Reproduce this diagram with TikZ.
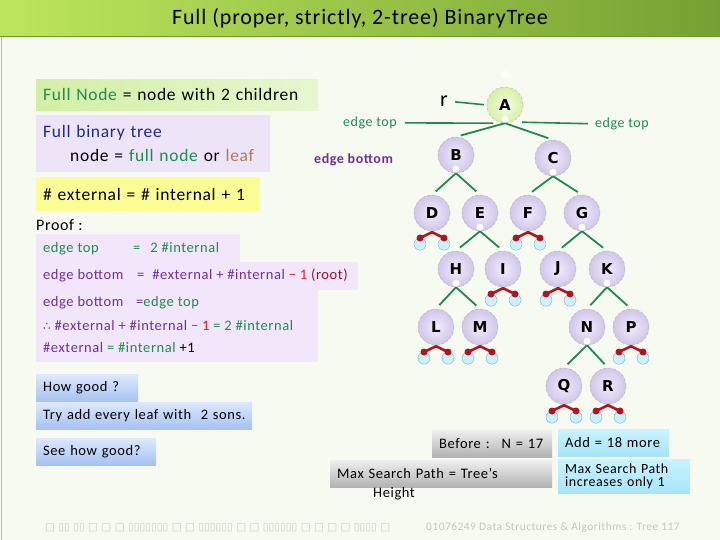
\documentclass[tikz,border=0pt]{standalone}
\usepackage{fontspec}
\setmainfont[LetterSpace=4]{Carlito}
\newfontfamily\glyphfont{DejaVu Sans}
\usetikzlibrary{calc}
\definecolor{paper}{HTML}{F7FAF0}
\definecolor{titleL}{HTML}{BDE65C}
\definecolor{titleR}{HTML}{76A132}
\definecolor{frameGreen}{HTML}{6E9A30}
\definecolor{boxGreenL}{HTML}{D2EFA5}
\definecolor{boxGreenR}{HTML}{E6F7CF}
\definecolor{boxLav}{HTML}{EDE5F7}
\definecolor{boxProof}{HTML}{F1E6FA}
\definecolor{boxYellow}{HTML}{FCFC94}
\definecolor{blueTop}{HTML}{DCE8FC}
\definecolor{blueBot}{HTML}{A6C2F2}
\definecolor{grayTop}{HTML}{EFEFEF}
\definecolor{grayBot}{HTML}{B2B2B2}
\definecolor{cyanTop}{HTML}{C8F3FE}
\definecolor{cyanBot}{HTML}{A8E5F8}
\definecolor{txtGreen}{HTML}{1E8C50}
\definecolor{txtNavy}{HTML}{1E2A8C}
\definecolor{txtLeaf}{HTML}{B07A55}
\definecolor{txtPurple}{HTML}{7030A0}
\definecolor{txtRed}{HTML}{E02020}
\definecolor{txtRoot}{HTML}{A0102A}
\definecolor{edgeGreen}{HTML}{1E8A4E}
\definecolor{nodeIn}{HTML}{F1EDFA}
\definecolor{nodeOut}{HTML}{D0C6EA}
\definecolor{rootIn}{HTML}{F6FDE6}
\definecolor{rootOut}{HTML}{D6F0A8}
\definecolor{wedgeRed}{HTML}{B4141E}
\definecolor{extFill}{HTML}{CDF1FA}
\definecolor{extDraw}{HTML}{6CB6D0}
\newcommand{\fsz}[1]{\fontsize{#1}{#1}\selectfont}

\begin{document}
\begin{tikzpicture}[x=1pt,y=-1pt,
  txt/.style={anchor=base west,inner sep=0pt},
  tbox/.style={anchor=north west,inner xsep=7pt,inner ysep=0pt,align=left},
  inode/.style={circle,minimum size=36pt,inner sep=0pt,draw=gray!60,densely dashed,
    inner color=nodeIn,outer color=nodeOut,font=\glyphfont\bfseries\fsz{15}},
  rnode/.style={inode,inner color=rootIn,outer color=rootOut},
  enode/.style={circle,minimum size=12pt,inner sep=0pt,draw=extDraw,fill=extFill,thin},
  branch/.style={draw=edgeGreen,line width=1.8pt,shorten >=5pt},
  leafcap/.style={draw=wedgeRed,line width=2.6pt,line join=round},
]
\useasboundingbox (0,0) rectangle (720,540);
% slide background and title bar
\fill[paper] (0,0) rectangle (720,540);
\shade[left color=titleL,right color=titleR] (0,0) rectangle (720,37);
\draw[frameGreen,line width=1pt] (0,37) -- (720,37);
\draw[frameGreen!55,line width=1.2pt] (1.5,37) -- (1.5,540);
\node[font=\fsz{22}] (title) at (360,18.5) {Full (proper, strictly, 2-tree) BinaryTree};

% definition boxes
\node[tbox,minimum height=31pt,text width=268pt,left color=boxGreenL,right color=boxGreenR,
  font=\fsz{17.5}] (fullnode) at (36,79)
  {{\color{txtGreen}Full Node} = node with 2 children};
\node[tbox,minimum height=57pt,text width=220pt,fill=boxLav,font=\fontsize{17.5}{24}\selectfont]
  (fulltree) at (36,115)
  {{\color{txtNavy}Full binary tree}\\\hspace*{27pt}node = {\color{txtGreen}full node} or {\color{txtLeaf}leaf}};
\node[tbox,minimum height=34pt,text width=210pt,fill=boxYellow,font=\fsz{17.5}] (extint) at (36,177)
  {\# external = \# internal + 1};
\node[txt,font=\fsz{16}] (proof) at (36,230) {Proof :};

% proof box
\fill[boxProof] (36,234) rectangle (240,263);
\fill[boxProof] (36,262) rectangle (358,290);
\fill[boxProof] (36,289) rectangle (318,362);
\begin{scope}[every node/.style={txt,font=\fsz{14.5}}]
\node[text=txtGreen] (p1) at (43,252.5) {\makebox[90pt][l]{edge top}=\hspace{10pt}2 \#internal};
\node[text=txtPurple] (p2) at (43,279.5) {\makebox[94pt][l]{edge bottom}=\hspace{8pt}\#external + \#internal {\color{txtRed}− 1} {\color{txtRoot}(root)}};
\node[text=txtPurple] (p3) at (43,306.5) {\makebox[93pt][l]{edge bottom}={\color{txtGreen}edge top}};
\node[text=txtPurple] (p4) at (43,330) {{\glyphfont\fsz{12}∴} \#external + \#internal {\color{txtRed}− 1} {\color{txtGreen}= 2 \#internal}};
\node[text=txtPurple] (p5) at (43,352.5) {\#external {\color{txtGreen}= \#internal} {\color{black}+1}};
\end{scope}

% question boxes
\node[tbox,minimum height=28pt,text width=88pt,top color=blueTop,bottom color=blueBot,font=\fsz{14.5}]
  (howgood) at (36,374) {How good ?};
\node[tbox,minimum height=27pt,text width=202pt,top color=blueTop,bottom color=blueBot,font=\fsz{14.5}]
  (tryadd) at (36,402) {Try add every leaf with \ 2 sons.};
\node[tbox,minimum height=27pt,text width=106pt,top color=blueTop,bottom color=blueBot,font=\fsz{14.5}]
  (seehow) at (36,438) {See how good?};

% the tree
\node[rnode] (A) at (505,105) {A};
\node[inode] (B) at (456,155) {B};
\node[inode] (C) at (553,158) {C};
\node[inode] (D) at (432,213) {D};
\node[inode] (E) at (480,213) {E};
\node[inode] (F) at (528,213) {F};
\node[inode] (G) at (582,213) {G};
\node[inode] (H) at (456,269) {H};
\node[inode] (I) at (503,269) {I};
\node[inode] (J) at (558,269) {J};
\node[inode] (K) at (607,269) {K};
\node[inode] (L) at (436,327) {L};
\node[inode] (M) at (480,327) {M};
\node[inode] (N) at (587,327) {N};
\node[inode] (P) at (631,327) {P};
\node[inode] (Q) at (564,386) {Q};
\node[inode] (R) at (608,386) {R};
\foreach \a/\b in {A/B,A/C,B/D,B/E,C/F,C/G,E/H,E/I,G/J,G/K,H/L,H/M,K/N,K/P,N/Q,N/R}
  \draw[branch] (\a.south) -- (\b.north);
\foreach \a in {A,B,C,E,G,H,K,N}
  \fill[white] ($(\a.south)+(0,-4)$) circle (3.5pt);
\fill[white] ($(A.north)+(0,-12)$) circle (4pt);
% external nodes
\foreach \p in {D,F,I,J,L,M,P,Q,R}{
  \node[enode] (\p1) at ($(\p.south)+(-12,13)$) {};
  \node[enode] (\p2) at ($(\p.south)+(12,13)$) {};
  \draw[leafcap] (\p1.north) -- ($(\p.south)+(0,1)$) -- (\p2.north);
  \fill[wedgeRed] (\p1.north) circle (3.5pt) (\p2.north) circle (3.5pt);
}

% edge labels
\node[txt,font=\fsz{22}] (r) at (440,106.5) {r};
\node[txt,font=\fsz{14},text=txtGreen] (etopL) at (343,126.5) {edge top};
\node[txt,font=\fsz{14},text=txtGreen] (etopR) at (595,127.5) {edge top};
\node[txt,font=\bfseries\fsz{14},text=txtPurple] (ebot) at (314,164) {edge bottom};
\coordinate (Atl) at ($(A.south)+(-12,0)$);
\coordinate (Atr) at ($(A.south)+(17,-1)$);
\draw[edgeGreen,line width=1.6pt,shorten <=8pt] (etopL.east) -- (Atl);
\draw[edgeGreen,line width=1.6pt,shorten <=7pt] (etopR.west) -- (Atr);
\draw[edgeGreen,line width=1.6pt,shorten <=7pt,shorten >=3pt] (r.east) -- (A.west);

% comparison boxes
\node[tbox,minimum height=27pt,text width=106pt,top color=grayTop,bottom color=grayBot,font=\fsz{14.5}]
  (before) at (432,430) {Before : \ N = 17};
\node[tbox,minimum height=27pt,text width=208pt,top color=grayTop,bottom color=grayBot,font=\fsz{14.5}]
  (maxpath) at (330,460) {Max Search Path = Tree’s};
\node[txt,font=\fsz{14.5}] (height) at (373,497) {Height};
\node[tbox,minimum height=27pt,text width=97pt,top color=cyanTop,bottom color=cyanBot,font=\fsz{14.5}]
  (addmore) at (558,429) {Add = 18 more};
\node[tbox,minimum height=34pt,text width=118pt,top color=cyanTop,bottom color=cyanBot,
  font=\fontsize{14}{12.5}\selectfont] (increase) at (558,459) {Max Search Path\\increases only 1};

% footer
\node[txt,font=\glyphfont\fsz{10.5},text=gray!40] (tofu) at (45,530)
  {□ ▯▯ ▯▯ □ □ □ ▯▯▯▯▯▯▯ □ □ ▯▯▯▯▯▯ □ □ ▯▯▯▯▯▯ □ □ □ □ ▯▯▯▯ □};
\node[txt,font=\fsz{11.5},text=gray!45] (footer) at (426,530)
  {01076249 Data Structures \& Algorithms : Tree 117};
\end{tikzpicture}
\end{document}
